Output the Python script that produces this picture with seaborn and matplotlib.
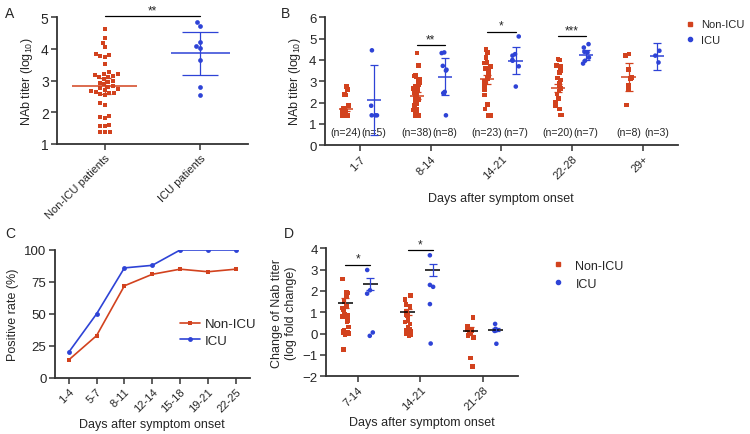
import numpy as np
import pandas as pd
import matplotlib.pyplot as plt
import seaborn as sns
from matplotlib.lines import Line2D

sns.set_style('ticks')
plt.rcParams['font.family'] = ['Liberation Sans', 'DejaVu Sans']
plt.rcParams['mathtext.default'] = 'regular'
plt.rcParams['font.size'] = 8
np.random.seed(3)  # jitter only

RED = '#D2421E'
BLUE = '#2E43D6'
groups = ['Non-ICU', 'ICU']
pal = {'Non-ICU': RED, 'ICU': BLUE}

# --- A: NAb titer, all patients ---
a_labels = ['Non-ICU patients', 'ICU patients']
a_nonicu = [4.62, 4.35, 4.20, 4.06, 3.85, 3.82, 3.78, 3.75, 3.52, 3.27, 3.22,
            3.20, 3.18, 3.15, 3.12, 3.10, 3.05, 3.00, 2.97, 2.93, 2.88, 2.83,
            2.80, 2.77, 2.72, 2.70, 2.68, 2.65, 2.62, 2.60, 2.58, 2.55, 2.28,
            2.24, 1.88, 1.85, 1.82, 1.61, 1.57, 1.56, 1.39, 1.39, 1.39]
a_icu = [4.85, 4.73, 4.22, 4.09, 4.03, 3.66, 2.79, 2.54]
a_mean = [2.83, 3.86]
a_err = [0.26, 0.69]

# --- B: NAb titer by day group ---
b_days = ['1-7', '8-14', '14-21', '22-28', '29+']
b_non_1 = [2.75, 2.62, 2.38, 2.35, 1.88, 1.85, 1.75, 1.72, 1.62, 1.58, 1.45,
           1.45, 1.42, 1.42, 1.4, 1.4, 1.4, 1.4, 1.4, 1.4, 1.4, 1.4, 1.4, 1.4]
b_icu_1 = [4.45, 1.85, 1.4, 1.4, 1.4]
b_non_2 = [4.32, 3.75, 3.3, 3.25, 3.2, 3.1, 3.05, 3.0, 2.95, 2.85, 2.75, 2.65,
           2.6, 2.55, 2.5, 2.45, 2.4, 2.35, 2.3, 2.25, 2.2, 2.15, 2.1, 2.05,
           2.0, 1.95, 1.85, 1.8, 1.7, 1.65, 1.55, 1.5, 1.4, 1.4, 1.4, 1.4,
           1.4, 1.4]
b_icu_2 = [4.35, 4.32, 3.72, 3.54, 3.5, 2.5, 2.44, 1.4]
b_non_3 = [4.5, 4.35, 4.1, 3.9, 3.85, 3.85, 3.7, 3.6, 3.45, 3.3, 3.25, 3.15,
           3.1, 3.0, 2.95, 2.85, 2.75, 2.6, 2.35, 1.9, 1.7, 1.4, 1.4]
b_icu_3 = [5.1, 4.27, 4.2, 4.0, 3.96, 3.7, 2.75]
b_non_4 = [4.05, 4.0, 3.75, 3.72, 3.5, 3.4, 3.15, 3.05, 2.9, 2.8, 2.65, 2.55,
           2.4, 2.2, 2.0, 1.85, 1.7, 1.7, 1.42, 1.42]
b_icu_4 = [4.74, 4.58, 4.38, 4.35, 4.11, 3.96, 3.83]
b_non_5 = [4.27, 4.22, 3.54, 3.18, 3.13, 2.79, 2.6, 1.88]
b_icu_5 = [4.43, 4.2, 3.88]
b_mean_non = [1.69, 2.32, 3.09, 2.68, 3.2]
b_err_non = [0.1, 0.17, 0.2, 0.2, 0.64]
b_mean_icu = [2.1, 3.22, 3.97, 4.24, 4.17]
b_err_icu = [1.64, 0.85, 0.65, 0.24, 0.64]
b_n_non = [24, 38, 23, 20, 8]
b_n_icu = [5, 8, 7, 7, 3]

# --- C: positive rate ---
c_days = ['1-4', '5-7', '8-11', '12-14', '15-18', '19-21', '22-25']
c_nonicu = [14, 33, 72, 81, 85, 83, 85]
c_icu = [20, 50, 86, 88, 100, 100, 100]

# --- D: change of NAb titer ---
d_days = ['7-14', '14-21', '21-28']
d_non_1 = [2.55, 1.92, 1.9, 1.75, 1.5, 1.3, 1.2, 1.1, 0.9, 0.85, 0.8, 0.6,
           0.55, 0.3, 0.15, 0.1, 0.05, 0.05, 0.0, 0.0, -0.05, -0.75]
d_icu_1 = [2.98, 2.03, 1.87, 0.05, -0.11]
d_non_2 = [1.77, 1.77, 1.6, 1.35, 1.3, 1.25, 1.05, 0.9, 0.85, 0.6, 0.55, 0.45,
           0.3, 0.2, 0.15, 0.1, 0.05, 0.0, -0.05, -0.1]
d_icu_2 = [3.67, 2.28, 2.19, 1.38, -0.47]
d_non_3 = [0.75, 0.35, 0.2, 0.15, 0.1, 0.05, -0.1, -0.2, -1.15, -1.55]
d_icu_3 = [0.45, 0.22, 0.18, 0.15, 0.12, -0.48]
d_mean_non = [1.43, 1.03, 0.12]
d_err_non = [0.25, 0.14, 0.2]
d_mean_icu = [2.32, 2.98, 0.18]
d_err_icu = [0.3, 0.3, 0.08]


def long_df(day_labels, non_lists, icu_lists):
    rows = []
    for day, non, icu in zip(day_labels, non_lists, icu_lists):
        rows += [(day, 'Non-ICU', v) for v in non]
        rows += [(day, 'ICU', v) for v in icu]
    return pd.DataFrame(rows, columns=['day', 'group', 'value'])


def style_axes(ax):
    sns.despine(ax=ax)
    for s in ['left', 'bottom']:
        ax.spines[s].set_linewidth(1.3)
        ax.spines[s].set_color('#333333')
    ax.tick_params(width=1.1, length=4, color='#333333', labelsize=8.5, pad=2)


def sig_bar(ax, x0, x1, y, text):
    ax.plot([x0, x1], [y, y], color='black', lw=0.9, clip_on=False)
    ax.text((x0 + x1) / 2, y, text, ha='center', va='bottom', fontsize=8.5,
            clip_on=False)


def legend_handles():
    return [Line2D([], [], ls='none', marker='s', ms=3.2, color=RED, label='Non-ICU'),
            Line2D([], [], ls='none', marker='o', ms=3.0, color=BLUE, label='ICU')]


def mean_bars(ax, pos, means, errs, color, mw, cap, mean_color=None):
    for x, m, e in zip(pos, means, errs):
        ax.hlines(m, x - mw, x + mw, color=mean_color or color, lw=1.1, zorder=5)
        ax.errorbar(x, m, yerr=e, fmt='none', ecolor=color, elinewidth=0.9,
                    capsize=cap, capthick=0.9, zorder=5)


def rot_labels(ax, labels):
    ax.set_xticks(range(len(labels)))
    ax.set_xticklabels(labels, rotation=45, ha='right', rotation_mode='anchor',
                       fontsize=8)


fig = plt.figure(figsize=(7.5, 4.35), dpi=100)

# ---------------- A ----------------
ax = fig.add_axes([0.076, 0.667, 0.255, 0.291])
df_a = pd.DataFrame({'group': [a_labels[0]] * len(a_nonicu) + [a_labels[1]] * len(a_icu),
                     'value': a_nonicu + a_icu})
sns.swarmplot(data=df_a[df_a.group == a_labels[0]], x='group', y='value',
              order=a_labels, color=RED, marker='s', size=3.4, ax=ax)
sns.swarmplot(data=df_a[df_a.group == a_labels[1]], x='group', y='value',
              order=a_labels, color=BLUE, marker='o', size=3.4, ax=ax)
mean_bars(ax, [0], a_mean[:1], a_err[:1], RED, 0.34, 4)
mean_bars(ax, [1], a_mean[1:], a_err[1:], BLUE, 0.31, 13)
ax.set_xlim(-0.5, 1.5)
ax.set_ylim(1, 5)
ax.set_yticks([1, 2, 3, 4, 5])
ax.set_xlabel('')
ax.set_ylabel('NAb titer (log$_{10}$)', fontsize=9)
style_axes(ax)
ax.tick_params(axis='y', labelsize=10)
rot_labels(ax, a_labels)
sig_bar(ax, 0, 1, 5.03, '**')

# ---------------- B ----------------
ax = fig.add_axes([0.433, 0.664, 0.471, 0.294])
df_b = long_df(b_days, [b_non_1, b_non_2, b_non_3, b_non_4, b_non_5],
               [b_icu_1, b_icu_2, b_icu_3, b_icu_4, b_icu_5])
for g, mk in zip(groups, ['s', 'o']):
    sns.stripplot(data=df_b[df_b.group == g], x='day', y='value', hue='group',
                  order=b_days, hue_order=groups, palette=pal, dodge=True,
                  jitter=0.1, marker=mk, size=3.3, legend=False, ax=ax)
off = 0.2
pos = range(len(b_days))
mean_bars(ax, [p - off for p in pos], b_mean_non, b_err_non, RED, 0.1, 3)
mean_bars(ax, [p + off for p in pos], b_mean_icu, b_err_icu, BLUE, 0.1, 3)
for p, nn, ni in zip(pos, b_n_non, b_n_icu):
    ax.text(p - off, 0.6, f'(n={nn})', ha='center', va='center', fontsize=7.6)
    ax.text(p + off, 0.6, f'(n={ni})', ha='center', va='center', fontsize=7.6)
ax.set_xlim(-0.5, 4.5)
ax.set_ylim(0, 6)
ax.set_yticks(range(7))
ax.set_ylabel('NAb titer (log$_{10}$)', fontsize=9)
ax.set_xlabel('Days after symptom onset', fontsize=9, labelpad=8)
style_axes(ax)
ax.tick_params(axis='y', labelsize=9.5)
rot_labels(ax, b_days)
sig_bar(ax, 1 - off, 1 + off, 4.7, '**')
sig_bar(ax, 2 - off, 2 + off, 5.33, '*')
sig_bar(ax, 3 - off, 3 + off, 5.1, '***')
ax.legend(handles=legend_handles(), loc='upper left', bbox_to_anchor=(1.015, 1.0),
          frameon=False, fontsize=8, handletextpad=0.6, handlelength=0.8,
          labelspacing=0.5, borderaxespad=0, borderpad=0.2)

# ---------------- C ----------------
ax = fig.add_axes([0.073, 0.129, 0.26, 0.294])
df_c = pd.DataFrame({'day': c_days * 2, 'rate': c_nonicu + c_icu,
                     'group': ['Non-ICU'] * len(c_days) + ['ICU'] * len(c_days)})
sns.lineplot(data=df_c, x='day', y='rate', hue='group', hue_order=groups,
             palette=pal, style='group', style_order=groups, markers=['s', 'o'],
             dashes=False, markersize=3.5, markeredgewidth=0, lw=1.2, sort=False, ax=ax)
ax.set_xlim(-0.5, 6.5)
ax.set_ylim(0, 100)
ax.set_yticks([0, 25, 50, 75, 100])
ax.set_ylabel('Positive rate (%)', fontsize=9)
ax.set_xlabel('Days after symptom onset', fontsize=9, labelpad=3)
style_axes(ax)
ax.tick_params(axis='y', labelsize=9.5)
rot_labels(ax, c_days)
ax.legend(loc='upper left', bbox_to_anchor=(0.58, 0.56), frameon=False,
          fontsize=9.5, handlelength=1.5, handletextpad=0.4, labelspacing=0.3)

# ---------------- D ----------------
ax = fig.add_axes([0.435, 0.133, 0.255, 0.294])
df_d = long_df(d_days, [d_non_1, d_non_2, d_non_3], [d_icu_1, d_icu_2, d_icu_3])
for g, mk in zip(groups, ['s', 'o']):
    sns.stripplot(data=df_d[df_d.group == g], x='day', y='value', hue='group',
                  order=d_days, hue_order=groups, palette=pal, dodge=True,
                  jitter=0.11, marker=mk, size=3.3, legend=False, ax=ax)
pos = range(len(d_days))
mean_bars(ax, [p - off for p in pos], d_mean_non, d_err_non, RED, 0.12, 3, 'black')
mean_bars(ax, [p + off for p in pos], d_mean_icu, d_err_icu, BLUE, 0.12, 3, 'black')
ax.set_xlim(-0.5, 2.55)
ax.set_ylim(-2, 4)
ax.set_yticks(range(-2, 5))
ax.set_ylabel('Change of Nab titer\n(log fold change)', fontsize=9)
ax.set_xlabel('Days after symptom onset', fontsize=9, labelpad=3)
style_axes(ax)
ax.tick_params(axis='y', labelsize=9.5)
rot_labels(ax, d_days)
sig_bar(ax, 0 - off, 0 + off, 3.22, '*')
sig_bar(ax, 1 - off, 1 + off, 3.9, '*')
ax.legend(handles=legend_handles(), loc='upper left', bbox_to_anchor=(1.12, 1.0),
          frameon=False, fontsize=9, handletextpad=0.9, handlelength=1.0,
          labelspacing=0.5)

# panel letters
for lbl, x, y in [('A', 0.007, 0.985), ('B', 0.375, 0.985),
                  ('C', 0.007, 0.478), ('D', 0.378, 0.478)]:
    fig.text(x, y, lbl, fontsize=10, va='top')

fig.savefig('out.png', dpi=100)
